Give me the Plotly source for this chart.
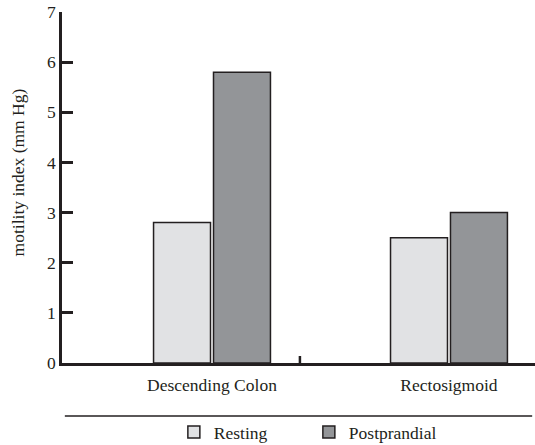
import plotly.graph_objects as go

# Motility index by colon segment, resting vs postprandial
segments = ["Descending Colon", "Rectosigmoid"]
resting = [2.8, 2.5]
postprandial = [5.8, 3.0]
y_ticks = [0, 1, 2, 3, 4, 5, 6, 7]

INK = "#231f20"
FONT = "Times New Roman"
TXT = dict(family=FONT, size=17.5, color=INK)

fig = go.Figure()
fig.add_trace(go.Bar(
    x=segments, y=resting, name="Resting",
    marker=dict(color="#e1e2e4", line=dict(color=INK, width=1.5)),
))
fig.add_trace(go.Bar(
    x=segments, y=postprandial, name="Postprandial",
    marker=dict(color="#939598", line=dict(color=INK, width=1.5)),
))

fig.update_layout(
    template="none",
    width=535, height=445,
    margin=dict(l=62, r=0, t=12, b=82, autoexpand=False),
    paper_bgcolor="white", plot_bgcolor="white",
    barmode="group", bargap=0.494, bargroupgap=0.05,
    font=TXT,
    showlegend=True,
    legend=dict(
        orientation="h", x=0.2365, xanchor="left", y=-0.197, yanchor="middle",
        entrywidth=90, entrywidthmode="pixels", font=TXT,
        bgcolor="rgba(0,0,0,0)", borderwidth=0,
    ),
    xaxis=dict(
        type="category", range=[-0.633, 1.363],
        showline=True, linecolor=INK, linewidth=2.5,
        ticks="", showgrid=False, zeroline=False, tickfont=TXT,
        ticklabelstandoff=4,
    ),
    yaxis=dict(
        range=[0, 7], tickvals=y_ticks,
        showline=True, linecolor=INK, linewidth=2.5,
        ticks="inside", ticklen=11, tickwidth=2.5, tickcolor=INK,
        showgrid=False, zeroline=False, tickfont=TXT,
    ),
    annotations=[
        dict(text="motility index (mm Hg)", textangle=-90,
             xref="paper", yref="paper", x=0, y=0.543,
             xanchor="center", yanchor="middle", xshift=-44,
             showarrow=False, font=TXT),
    ],
    shapes=[
        # small divider tick on the category axis
        dict(type="line", xref="paper", yref="paper",
             x0=0.503, x1=0.503, y0=0, y1=0.02,
             line=dict(color=INK, width=2.5)),
        # rule above the legend
        dict(type="line", xref="paper", yref="paper",
             x0=0.006, x1=0.994, y0=-0.151, y1=-0.151,
             line=dict(color=INK, width=1.5)),
    ],
)

fig.write_html("out.html")
